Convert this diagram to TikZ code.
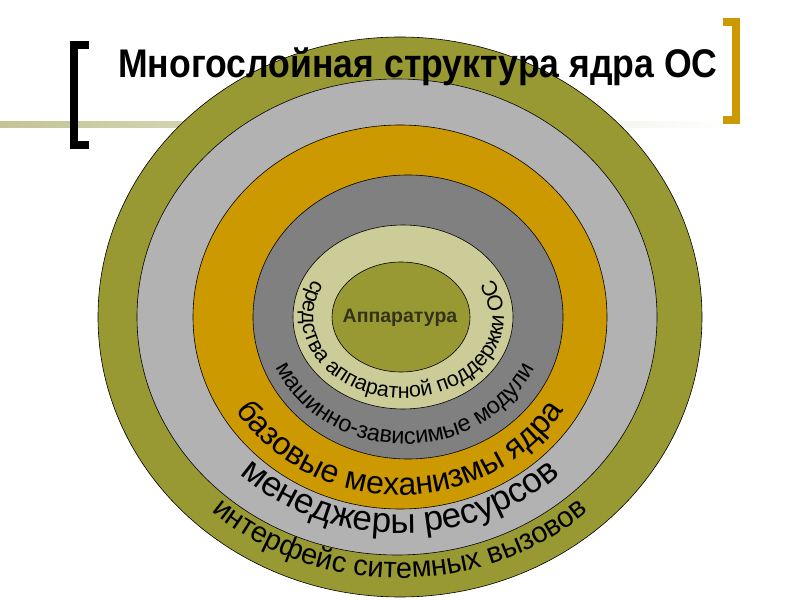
\documentclass[tikz,border=0pt]{standalone}
\usepackage{fontspec}
\setmainfont{Liberation Sans}
\usetikzlibrary{decorations.text}

\definecolor{olivering}{RGB}{153,153,51}
\definecolor{lightring}{RGB}{178,178,178}
\definecolor{goldring}{RGB}{204,153,0}
\definecolor{darkring}{RGB}{128,128,128}
\definecolor{creamring}{RGB}{204,204,153}
\definecolor{bandcol}{RGB}{196,196,150}
\definecolor{coretext}{RGB}{51,51,26}

\newcommand{\ringsize}[1]{\fontsize{#1}{#1}\selectfont}

\begin{document}
\begin{tikzpicture}[
  x=1pt, y=1pt,
  ring/.style={draw=black, line width=0.6pt},
  ringtext/.style={decorate, decoration={text along path, text align=center, text={#1}}},
  bracket/.style={line width=8pt, line cap=butt, line join=miter},
]
  \useasboundingbox (0,0) rectangle (800,600);

  % Header band and brackets
  \shade[left color=bandcol, right color=white] (0,472) rectangle (730,478);
  \draw[bracket, black] (89,555) -- (74,555) -- (74,455) -- (89,455);
  \draw[bracket, goldring] (723,578) -- (736,578) -- (736,480) -- (723,480);

  % Rings, outer to inner
  \foreach \cx/\rx/\ry/\col in {400/302/280/olivering, 397/260/238/lightring,
      400/207/192/goldring, 408/155/142/darkring, 403/110/92/creamring,
      401/69/55/olivering}
    \filldraw[ring, fill=\col] (\cx,283) ellipse[x radius=\rx, y radius=\ry];

  % Core
  \node[font=\bfseries\ringsize{19.5}, text=coretext] (core) at (400,282) {Аппаратура};

  % Curved labels, one per ring
  \path[ringtext={|\ringsize{21.5}|средства аппаратной поддержки ОС}]
    (403,283) ++(90:101 and 81) arc[start angle=90, end angle=450, x radius=101, y radius=81];
  \path[ringtext={|\ringsize{23.5}|машинно-зависимые модули}]
    (405,283) ++(90:141 and 127) arc[start angle=90, end angle=450, x radius=141, y radius=127];
  \path[ringtext={|\ringsize{32}|базовые механизмы ядра}]
    (400,283) ++(90:192 and 178) arc[start angle=90, end angle=450, x radius=192, y radius=178];
  \path[ringtext={|\ringsize{35}|менеджеры ресурсов}]
    (400,283) ++(90:234 and 216) arc[start angle=90, end angle=450, x radius=234, y radius=216];
  \path[ringtext={|\ringsize{29}|интерфейс ситемных вызовов}]
    (400,283) ++(90:283 and 261) arc[start angle=90, end angle=450, x radius=283, y radius=261];

  % Title
  \node[anchor=base west, inner sep=0pt] (title) at (118,522)
    {\scalebox{0.89}[1]{\bfseries\ringsize{40}Многослойная структура ядра ОС}};
\end{tikzpicture}
\end{document}
